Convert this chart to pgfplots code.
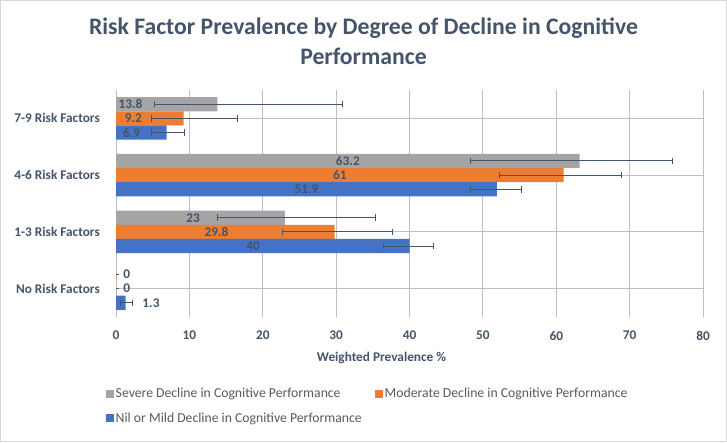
\documentclass[border=0pt]{standalone}
\usepackage{pgfplots}
\pgfplotsset{compat=1.18}
\usepackage{fontspec}
\setmainfont{Carlito}
\definecolor{txt}{HTML}{44546A}
\definecolor{cgray}{HTML}{A5A5A5}
\definecolor{corange}{HTML}{ED7D31}
\definecolor{cblue}{HTML}{4472C4}
\definecolor{grid}{HTML}{D9D9D9}
\definecolor{legtxt}{HTML}{595959}
\begin{document}
\begin{tikzpicture}[x=1pt,y=1pt]
\draw[grid, line width=0.8pt] (0.4,0.4) rectangle (726.6,441.6);
\node[font=\fontsize{23.7}{28}\selectfont\bfseries, text=txt, anchor=base, inner sep=0pt] at (363.5,407) {Risk Factor Prevalence by Degree of Decline in Cognitive};
\node[font=\fontsize{23.7}{28}\selectfont\bfseries, text=txt, anchor=base, inner sep=0pt] at (363.5,377) {Performance};
\begin{axis}[
  at={(116pt,125pt)}, anchor=south west,
  scale only axis, width=587pt, height=227pt,
  xmin=0, xmax=80, ymin=-0.5, ymax=3.5,
  xtick={0,10,...,80},
  ytick={0,1,2,3},
  yticklabels={No Risk Factors,1-3 Risk Factors,4-6 Risk Factors,7-9 Risk Factors},
  axis line style={draw=none},
  major tick length=0pt,
  xmajorgrids, major grid style={grid, line width=0.8pt},
  ticklabel style={font=\fontsize{13.3}{15}\selectfont\bfseries, text=txt},
  /pgf/number format/assume math mode=true,
  yticklabel style={inner sep=0pt, xshift=-16pt},
  xticklabel style={inner sep=0pt, yshift=-14pt},
  xlabel={Weighted Prevalence \%},
  xlabel style={font=\fontsize{13.3}{15}\selectfont\bfseries, text=txt,
    at={(axis description cs:0.4523,-0.1806)}, anchor=center, inner sep=0pt},
  legend columns=2,
  legend cell align=left,
  legend style={at={(axis description cs:-0.017,-0.314)}, anchor=north west, draw=none, fill=none,
    inner sep=0pt, nodes={inner xsep=1.5pt, inner ysep=0pt},
    font=\fontsize{13.7}{16}\selectfont, text=legtxt,
    /tikz/every even column/.append style={column sep=12pt}, row sep=13pt},
  legend image code/.code={\fill[#1] (0pt,-4pt) rectangle (8pt,4pt);},
  error bars/error bar style={draw=txt, line width=1pt},
  error bars/error mark options={rotate=90, mark size=3.3pt, line width=1pt, draw=txt},
  nodes near coords style={font=\fontsize{13.3}{15}\selectfont\bfseries, text=txt},
]
% Severe
\addplot[xbar, bar width=0.25, fill=cgray, draw=none, bar shift=0pt,
  error bars/.cd, x dir=both, x explicit]
  coordinates {(0,0.25) +- (0,0) (23,1.25) -= (9.2,0) += (12.4,0) (63.2,2.25) -= (14.9,0) += (12.6,0) (13.8,3.25) -= (8.5,0) += (17.1,0)};
\addlegendentry{Severe Decline in Cognitive Performance}
% Moderate
\addplot[xbar, bar width=0.25, fill=corange, draw=none, bar shift=0pt,
  error bars/.cd, x dir=both, x explicit]
  coordinates {(0,0) +- (0,0) (29.8,1) -= (7.1,0) += (7.9,0) (61,2) -= (8.7,0) += (7.9,0) (9.2,3) -= (4.4,0) += (7.3,0)};
\addlegendentry{Moderate Decline in Cognitive Performance}
% Nil
\addplot[xbar, bar width=0.25, fill=cblue, draw=none, bar shift=0pt,
  error bars/.cd, x dir=both, x explicit]
  coordinates {(1.3,-0.25) -= (0.7,0) += (1.0,0) (40,0.75) -= (3.6,0) += (3.3,0) (51.9,1.75) -= (3.6,0) += (3.3,0) (6.9,2.75) -= (2.1,0) += (2.5,0)};
\addlegendentry{Nil or Mild Decline in Cognitive Performance}
% data labels
\addplot[only marks, mark=none, nodes near coords, point meta=explicit symbolic,
  nodes near coords align={center}, forget plot]
  coordinates {(1.46,0.25)[0] (1.46,0)[0] (4.77,-0.25)[1.3]
    (10.5,1.25)[23] (13.7,1)[29.8] (18.7,0.75)[40]
    (31.6,2.25)[63.2] (30.5,2)[61] (25.95,1.75)[51.9]
    (1.98,3.25)[13.8] (2.36,3)[9.2] (2.09,2.75)[6.9]};
\end{axis}
\end{tikzpicture}
\end{document}
